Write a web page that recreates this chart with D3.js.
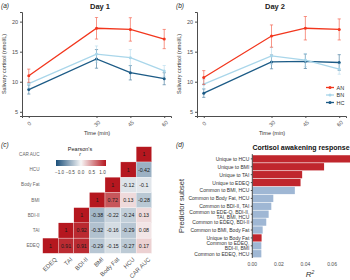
<!DOCTYPE html>
<html lang="en">
<head>
<meta charset="UTF-8">
<title>Cortisol panels</title>
<script src="https://cdn.jsdelivr.net/npm/d3@7"></script>
<style>
  body { margin: 0; background: #fff; }
  svg { font-family: "Liberation Sans", Arial, sans-serif; display: block; }
</style>
</head>
<body>
<div id="chart"></div>
<script>
// ---- data ----
const times = [0, 30, 45, 60];
const groups = ["AN", "BN", "HC"];
const groupColors = ["#f2361d", "#a9d6ea", "#1c5b86"];

const day1AN = [11.0, 18.9, 18.7, 17.1];
const day1BN = [9.7, 14.6, 14.0, 11.8];
const day1HC = [8.7, 13.8, 11.5, 10.5];
const day1ANErr = [1.1, 1.8, 1.95, 1.6];
const day1BNErr = [0.75, 1.35, 1.35, 0.9];
const day1HCErr = [0.75, 1.55, 1.2, 1.0];

const day2AN = [10.7, 17.6, 18.9, 18.7];
const day2BN = [9.6, 14.3, 13.6, 12.1];
const day2HC = [8.1, 13.3, 13.4, 13.2];
const day2ANErr = [1.15, 1.85, 1.95, 1.75];
const day2BNErr = [0.8, 1.4, 1.1, 0.85];
const day2HCErr = [0.7, 1.15, 1.2, 1.3];

const corrVars = ["EDEQ", "TAI", "BDI-II", "BMI", "Body Fat", "HCU", "CAR AUC"];
const corrEDEQ = [1, 0.91, 0.91, -0.29, -0.15, -0.27, 0.17];
const corrTAI = [null, 1, 0.92, -0.32, -0.16, -0.29, 0.08];
const corrBDI = [null, null, 1, -0.38, -0.22, -0.24, 0.13];
const corrBMI = [null, null, null, 1, 0.72, 0.13, -0.28];
const corrBodyFat = [null, null, null, null, 1, -0.12, -0.1];
const corrHCU = [null, null, null, null, null, 1, -0.42];
const corrCAR = [null, null, null, null, null, null, 1];
const legendTicks = [-1, -0.5, 0, 0.5, 1];

const subsetLabels = [
  "Unique to HCU", "Unique to BMI", "Unique to TAI", "Unique to EDEQ",
  "Common to BMI, HCU", "Common to Body Fat, HCU", "Common to BDI-II, TAI",
  "Common to EDE-Q, BDI-II,\nTAI, BMI, HCU", "Common to EDEQ, BDI-II",
  "Common to BMI, Body Fat", "Unique to Body Fat",
  "Common to EDEQ,\nBDI-II, BMI", "Common to EDEQ, HCU"
];
const r2Values = [0.0735, 0.054, 0.0375, 0.0363, 0.032, 0.0158, 0.0143,
  0.0123, 0.0105, 0.0078, 0.007, 0.0068, 0.0068];
const r2Ticks = [0, 0.02, 0.04, 0.06];

// ---- svg ----
const svg = d3.select("#chart").append("svg")
  .attr("width", 350).attr("height", 280);

const axisGrey = "#4d4d4d";
const textGrey = "#4d4d4d";

function linePanel(ox, title, tag, means, errs, showLegend) {
  const x = d3.scaleLinear().domain([-3, 63]).range([ox + 22, ox + 171]);
  const y = d3.scaleLinear().domain([4.3, 21.6]).range([116, 12]);
  const g = svg.append("g");

  g.append("text").attr("x", ox + 1).attr("y", 8)
    .attr("font-size", 6.5).attr("font-style", "italic").attr("fill", "#222").text(tag);
  g.append("text").attr("x", ox + 100).attr("y", 9)
    .attr("font-size", 7.5).attr("font-weight", "bold").attr("text-anchor", "middle")
    .attr("fill", "#222").text(title);

  const yAxis = g.append("g").attr("transform", `translate(${ox + 22},0)`)
    .call(d3.axisLeft(y).tickValues([5, 10, 15, 20]).tickSize(2).tickPadding(2));
  yAxis.select(".domain").attr("stroke", axisGrey);
  yAxis.selectAll(".tick line").attr("stroke", axisGrey);
  yAxis.selectAll("text").attr("font-size", 5.5).attr("fill", textGrey);

  const xAxis = g.append("g").attr("transform", "translate(0,116)")
    .call(d3.axisBottom(x).tickValues(times).tickSize(2).tickFormat(d3.format("d")));
  xAxis.select(".domain").attr("stroke", axisGrey);
  xAxis.selectAll(".tick line").attr("stroke", axisGrey);
  xAxis.selectAll("text")
    .attr("font-size", 5.5).attr("fill", textGrey)
    .attr("text-anchor", "middle").attr("dy", null).attr("y", 0)
    .attr("dominant-baseline", "central")
    .attr("transform", "translate(0,7.5) rotate(-45)");

  g.append("text").attr("x", ox + 97).attr("y", 135)
    .attr("font-size", 5.5).attr("text-anchor", "middle").attr("fill", "#333").text("Time (min)");
  g.append("text").attr("transform", `translate(${ox + 6},64) rotate(-90)`)
    .attr("font-size", 5.5).attr("text-anchor", "middle").attr("fill", "#333")
    .text("Salivary cortisol (nmol/L)");

  // draw HC first so AN sits on top
  [2, 1, 0].forEach(k => {
    const col = groupColors[k];
    const pts = times.map((t, i) => ({ t, m: means[k][i], e: errs[k][i] }));
    const eb = g.append("g").attr("stroke", col).attr("stroke-width", 0.7).attr("opacity", 0.75);
    pts.forEach(p => {
      eb.append("line").attr("x1", x(p.t)).attr("x2", x(p.t))
        .attr("y1", y(p.m - p.e)).attr("y2", y(p.m + p.e));
      [p.m - p.e, p.m + p.e].forEach(v => {
        eb.append("line").attr("x1", x(p.t) - 1.6).attr("x2", x(p.t) + 1.6)
          .attr("y1", y(v)).attr("y2", y(v));
      });
    });
    g.append("path").datum(pts)
      .attr("fill", "none").attr("stroke", col).attr("stroke-width", 1.3)
      .attr("d", d3.line().x(d => x(d.t)).y(d => y(d.m)));
    g.selectAll(null).data(pts).join("circle")
      .attr("cx", d => x(d.t)).attr("cy", d => y(d.m)).attr("r", 1.5).attr("fill", col);
  });

  if (showLegend) {
    const lg = g.append("g");
    groups.forEach((name, k) => {
      const yy = 87.5 + k * 7.5;
      lg.append("line").attr("x1", 326).attr("x2", 334).attr("y1", yy).attr("y2", yy)
        .attr("stroke", groupColors[k]).attr("stroke-width", 1.3);
      lg.append("circle").attr("cx", 330).attr("cy", yy).attr("r", 1.5).attr("fill", groupColors[k]);
      lg.append("text").attr("x", 336.5).attr("y", yy).attr("dominant-baseline", "central")
        .attr("font-size", 5.5).attr("fill", "#333").text(name);
    });
  }
}

linePanel(0, "Day 1", "(a)", [day1AN, day1BN, day1HC], [day1ANErr, day1BNErr, day1HCErr], false);
linePanel(175, "Day 2", "(b)", [day2AN, day2BN, day2HC], [day2ANErr, day2BNErr, day2HCErr], true);

// ---- (c) correlation heatmap ----
const corrRows = [corrEDEQ, corrTAI, corrBDI, corrBMI, corrBodyFat, corrHCU, corrCAR];
const cx = d3.scaleBand().domain(corrVars).range([42.7, 151.7]);
const cy = d3.scaleBand().domain(corrVars.slice().reverse()).range([146.7, 253.3]);
const corrColor = d3.scaleLinear().domain([-1, 0, 1])
  .range(["#1b4f7a", "#f7f7f7", "#b5171f"]);

svg.append("text").attr("x", 1).attr("y", 147)
  .attr("font-size", 6.5).attr("font-style", "italic").attr("fill", "#222").text("(c)");

const cells = [];
corrRows.forEach((row, r) => row.forEach((v, c) => {
  if (v !== null) cells.push({ row: corrVars[r], col: corrVars[c], v });
}));
const cg = svg.append("g");
cg.selectAll("rect").data(cells).join("rect")
  .attr("x", d => cx(d.col)).attr("y", d => cy(d.row))
  .attr("width", cx.bandwidth()).attr("height", cy.bandwidth())
  .attr("fill", d => corrColor(d.v)).attr("stroke", "#fff").attr("stroke-width", 0.3);
cg.selectAll("text").data(cells).join("text")
  .attr("x", d => cx(d.col) + cx.bandwidth() / 2)
  .attr("y", d => cy(d.row) + cy.bandwidth() / 2)
  .attr("text-anchor", "middle").attr("dominant-baseline", "central")
  .attr("font-size", 5.3).attr("fill", "#1a1a1a")
  .text(d => d.v);

svg.append("g").selectAll("text").data(corrVars).join("text")
  .attr("x", 39.5).attr("y", d => cy(d) + cy.bandwidth() / 2)
  .attr("text-anchor", "end").attr("dominant-baseline", "central")
  .attr("font-size", 4.6).attr("fill", "#666").text(d => d);
svg.append("g").selectAll("text").data(corrVars).join("text")
  .attr("transform", d => `translate(${cx(d) + cx.bandwidth() / 2 + 4},257) rotate(-45)`)
  .attr("text-anchor", "end").attr("dominant-baseline", "hanging")
  .attr("font-size", 6).attr("fill", "#555").text(d => d);

// colour bar legend
const lx = d3.scaleLinear().domain([-1, 1]).range([59.5, 102.5]);
const grad = svg.append("defs").append("linearGradient").attr("id", "corrGrad");
d3.range(-1, 1.01, 0.25).forEach(v => {
  grad.append("stop").attr("offset", `${(v + 1) / 2 * 100}%`).attr("stop-color", corrColor(v));
});
svg.append("rect").attr("x", 56).attr("y", 160).attr("width", 50).attr("height", 6)
  .attr("fill", "url(#corrGrad)");
svg.append("g").selectAll("text").data(legendTicks).join("text")
  .attr("x", d => lx(d)).attr("y", 172)
  .attr("text-anchor", "middle").attr("dominant-baseline", "central")
  .attr("font-size", 4.6).attr("fill", "#444").text(d => d3.format(".1f")(d).replace("-", "\u2212"));
svg.append("text").attr("x", 80).attr("y", 150.5).attr("text-anchor", "middle")
  .attr("font-size", 5.5).attr("fill", "#222").text("Pearson's");
svg.append("text").attr("x", 80).attr("y", 156).attr("text-anchor", "middle")
  .attr("font-size", 5).attr("font-style", "italic").attr("fill", "#222").text("r");

// ---- (d) bar chart ----
const bx = d3.scaleLinear().domain([0, 0.0735]).range([252.3, 350]);
const by = d3.scaleBand().domain(subsetLabels).range([154.6, 258]).padding(0.08);

svg.append("text").attr("x", 176).attr("y", 147)
  .attr("font-size", 6.5).attr("font-style", "italic").attr("fill", "#222").text("(d)");
svg.append("text").attr("x", 301).attr("y", 150)
  .attr("font-size", 7).attr("font-weight", "bold").attr("text-anchor", "middle")
  .attr("fill", "#111").text("Cortisol awakening response");

svg.append("g").selectAll("rect").data(subsetLabels).join("rect")
  .attr("x", bx(0)).attr("y", d => by(d))
  .attr("width", (d, i) => bx(r2Values[i]) - bx(0)).attr("height", by.bandwidth())
  .attr("fill", d => d.startsWith("Unique") ? "#c0262d" : "#9fb7d4");

const byAxis = svg.append("g").attr("transform", `translate(${bx(0)},0)`)
  .call(d3.axisLeft(by).tickSize(1.5).tickPadding(1.5));
byAxis.select(".domain").attr("stroke", axisGrey).attr("d", `M-0,${by.range()[0] - 0.5}V${by.range()[1]}`);
byAxis.selectAll(".tick line").attr("stroke", axisGrey);
byAxis.selectAll("text").each(function(d) {
  const lines = d.split("\n");
  const t = d3.select(this).text(null)
    .attr("font-size", 5).attr("fill", "#333").attr("dy", null)
    .attr("dominant-baseline", "central");
  lines.forEach((ln, i) => {
    t.append("tspan").attr("x", -3)
      .attr("y", (i - (lines.length - 1) / 2) * 5).text(ln);
  });
});

svg.append("g").selectAll("text").data(r2Ticks).join("text")
  .attr("x", d => bx(d)).attr("y", 263.5).attr("text-anchor", "middle")
  .attr("dominant-baseline", "central").attr("font-size", 5).attr("fill", textGrey)
  .text(d => d3.format(".2f")(d));

const r2Label = svg.append("text").attr("x", 310).attr("y", 277).attr("text-anchor", "middle")
  .attr("font-size", 8).attr("font-style", "italic").attr("fill", "#333");
r2Label.append("tspan").text("R");
r2Label.append("tspan").attr("font-size", 5).attr("dy", -3.5).text("2");

svg.append("text").attr("transform", "translate(184,206) rotate(-90)")
  .attr("text-anchor", "middle").attr("font-size", 7.5).attr("fill", "#333")
  .text("Predictor subset");
</script>
</body>
</html>
